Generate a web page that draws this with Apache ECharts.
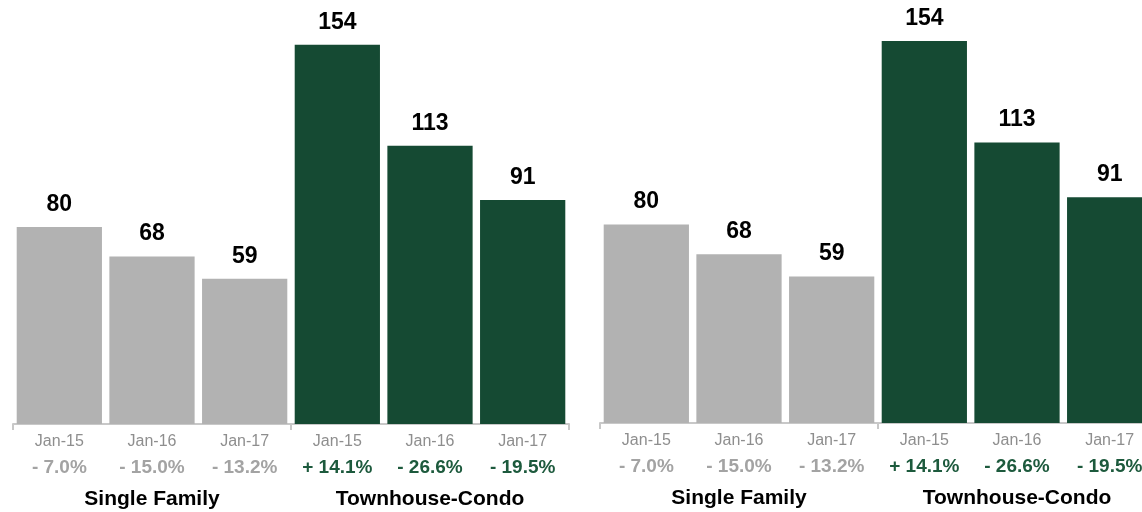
<!DOCTYPE html>
<html>
<head>
<meta charset="utf-8">
<script src="https://cdn.jsdelivr.net/npm/echarts@6/dist/echarts.min.js"></script>
<style>
html,body{margin:0;padding:0;background:#fff;}
#chart{width:1142px;height:512px;}
</style>
</head>
<body>
<div id="chart"></div>
<script>
const categories = ['Jan-15','Jan-16','Jan-17','Jan-15','Jan-16','Jan-17'];
const groups = ['Single Family','Townhouse-Condo'];
const leftValues = [80, 68, 59, 154, 113, 91];
const rightValues = [80, 68, 59, 154, 113, 91];
const leftChanges = ['- 7.0%','- 15.0%','- 13.2%','+ 14.1%','- 26.6%','- 19.5%'];
const rightChanges = ['- 7.0%','- 15.0%','- 13.2%','+ 14.1%','- 26.6%','- 19.5%'];

const GRAY = '#b2b2b2';
const GREEN = '#154a33';
const FONT = '"Liberation Sans", Arial, Helvetica, sans-serif';

function catAxis(gridIndex, changes) {
  return {
    type: 'category', gridIndex: gridIndex, data: categories, position: 'bottom',
    axisLine: {show: false}, axisTick: {show: false},
    axisLabel: {
      interval: 0, margin: 7, fontFamily: FONT,
      formatter: function (v, i) {
        return '{d|' + v + '}\n' + (i < 3 ? '{g|' : '{t|') + changes[i] + '}';
      },
      rich: {
        d: {fontSize: 16, lineHeight: 22, color: '#8e8e8e', fontFamily: FONT},
        g: {fontSize: 19, lineHeight: 30, color: '#a3a3a3', fontWeight: 'bold', fontFamily: FONT},
        t: {fontSize: 19, lineHeight: 30, color: '#1d5a3d', fontWeight: 'bold', fontFamily: FONT}
      }
    }
  };
}
function groupAxis(gridIndex) {
  return {
    type: 'category', gridIndex: gridIndex, data: groups, position: 'bottom',
    axisLine: {show: true, lineStyle: {color: '#c8c8c8', width: 2}},
    axisTick: {show: true, length: 6, lineStyle: {color: '#c8c8c8', width: 2}},
    axisLabel: {interval: 0, margin: 65, fontSize: 21, fontWeight: 'bold', color: '#000', fontFamily: FONT}
  };
}
function barSeries(idx, values) {
  return {
    type: 'bar', xAxisIndex: idx * 2, yAxisIndex: idx, data: values,
    barCategoryGap: '8%',
    itemStyle: {color: function (p) { return p.dataIndex < 3 ? GRAY : GREEN; }},
    label: {show: true, position: 'top', distance: 11, fontSize: 23, fontWeight: 'bold', color: '#000', fontFamily: FONT},
    animation: false
  };
}

const chart = echarts.init(document.getElementById('chart'));
chart.setOption({
  animation: false,
  grid: [
    {left: 13, right: 573, top: 30, height: 394, outerBoundsMode: 'none', containLabel: false},
    {left: 600, right: -14, top: 26, height: 397, outerBoundsMode: 'none', containLabel: false}
  ],
  xAxis: [catAxis(0, leftChanges), groupAxis(0), catAxis(1, rightChanges), groupAxis(1)],
  yAxis: [
    {type: 'value', gridIndex: 0, min: 0, max: 160, show: false},
    {type: 'value', gridIndex: 1, min: 0, max: 160, show: false}
  ],
  series: [barSeries(0, leftValues), barSeries(1, rightValues)]
});
</script>
</body>
</html>
